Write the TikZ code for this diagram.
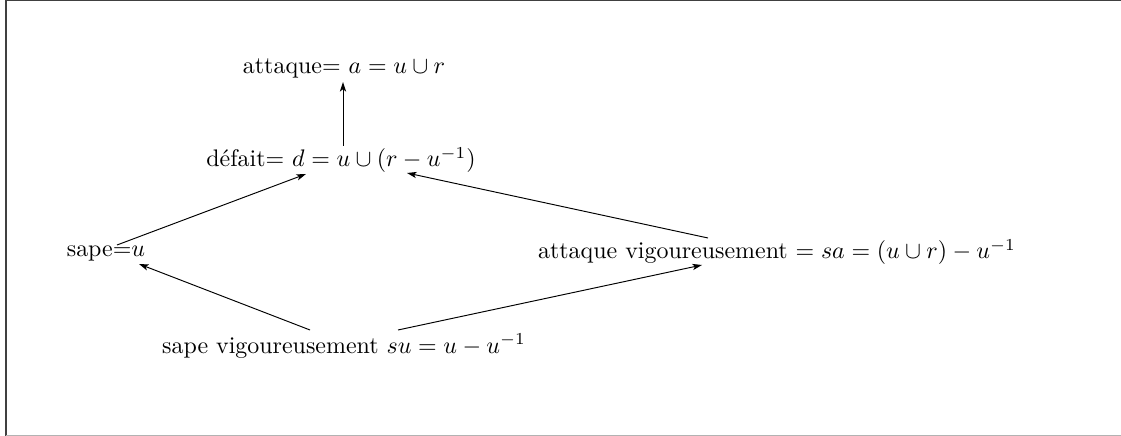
\documentclass[tikz,border=0pt]{standalone}
\usetikzlibrary{calc,arrows.meta}
\begin{document}
\begin{tikzpicture}[x=0.4176pt,y=-0.4176pt,
  lbl/.style={inner sep=0pt,anchor=center},
  arr/.style={-{Stealth[length=4pt,width=2.6pt,inset=1pt]},line width=0.4pt}]
\useasboundingbox (0,0) rectangle (1121,436);
\draw[line width=0.8pt,black!75] (6,436) -- (6,0.5) -- (1121,0.5);
\draw[line width=0.8pt,black!30] (6,435.5) -- (1121,435.5);
\node[lbl] (a) at (344,68) {attaque= $a=u\cup r$};
\node[lbl] (d) at (341,160) {défait= $d=u\cup(r-u^{-1})$};
\node[lbl] (u) at (106,253) {sape=$u$};
\node[lbl] (sa) at (777,252) {attaque vigoureusement $=sa=(u\cup r)-u^{-1}$};
\node[lbl] (su) at (344,346) {sape vigoureusement $su=u-u^{-1}$};
\coordinate (d1) at (343,146);
\coordinate (a1) at (343,82);
\coordinate (u1) at (117,245);
\coordinate (d2) at (306,174);
\coordinate (sa1) at (708,238);
\coordinate (d3) at (407,173);
\coordinate (su1) at (310,330);
\coordinate (u2) at (139,264);
\coordinate (su2) at (398,330);
\coordinate (sa2) at (702,265);
\draw[arr] (d1) -- (a1);
\draw[arr] (u1) -- (d2);
\draw[arr] (sa1) -- (d3);
\draw[arr] (su1) -- (u2);
\draw[arr] (su2) -- (sa2);
\end{tikzpicture}
\end{document}
